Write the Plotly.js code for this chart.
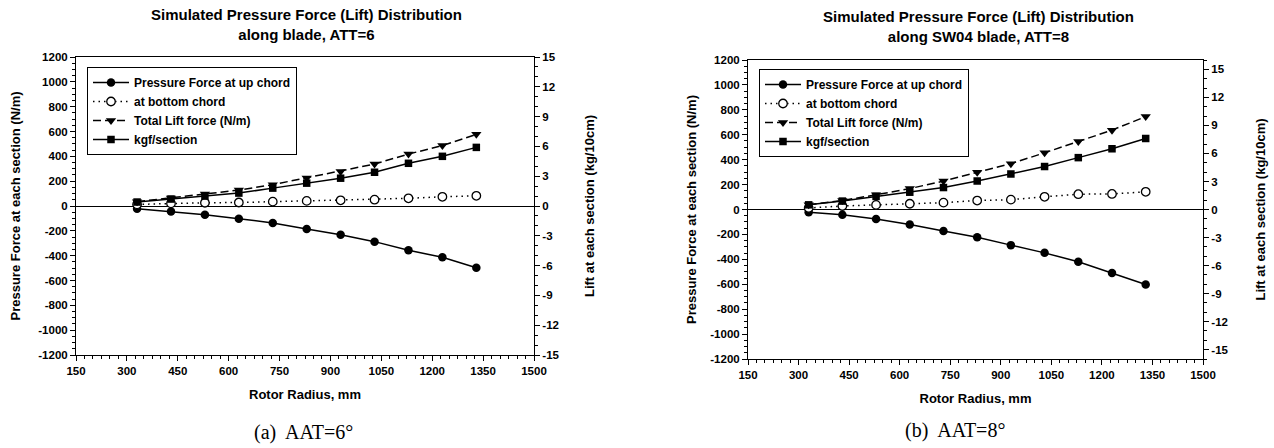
<!DOCTYPE html>
<html><head><meta charset="utf-8">
<script src="https://cdn.plot.ly/plotly-3.0.1.min.js"></script>
<style>html,body{margin:0;padding:0;background:#fff}</style>
</head><body><div id="chart" style="width:1274px;height:448px"></div>
<script>
// ---- data ----
const radius = [330, 430, 530, 630, 730, 830, 930, 1030, 1130, 1230, 1330];

// (a) ATT = 6
const upChord6   = [-22, -44, -70, -102, -137, -185, -232, -287, -357, -413, -497];
const bottom6    = [13, 21, 26, 28, 35, 41, 46, 51, 62, 74, 82];
const totalLift6 = [35, 65, 97, 128, 172, 226, 278, 338, 418, 487, 577];
const kgf6       = [0.4, 0.7, 1.0, 1.3, 1.8, 2.3, 2.8, 3.4, 4.3, 5.0, 5.9];

// (b) ATT = 8
const upChord8   = [-22, -43, -77, -120, -172, -222, -286, -348, -420, -509, -602];
const bottom8    = [12, 28, 37, 46, 55, 72, 79, 102, 123, 125, 142];
const totalLift8 = [38, 72, 118, 168, 228, 298, 368, 455, 545, 637, 746];
const kgf8       = [0.5, 0.9, 1.4, 1.85, 2.35, 3.05, 3.8, 4.6, 5.55, 6.5, 7.6];

const seriesNames = ["Pressure Force at up chord", "at bottom chord", "Total Lift force (N/m)", "kgf/section"];

const xTickVals = [150, 300, 450, 600, 750, 900, 1050, 1200, 1350, 1500];
const forceTickVals = [1200, 1000, 800, 600, 400, 200, 0, -200, -400, -600, -800, -1000, -1200];
const liftTickVals = [15, 12, 9, 6, 3, 0, -3, -6, -9, -12, -15];

const titleA = "Simulated Pressure Force (Lift) Distribution<br>along blade, ATT=6";
const titleB = "Simulated Pressure Force (Lift) Distribution<br>along SW04 blade, ATT=8";
const captionA = "(a)  AAT=6°";
const captionB = "(b)  AAT=8°";
const xTitle = "Rotor Radius, mm";
const yLeftTitle = "Pressure Force at each section (N/m)";
const yRightTitle = "Lift at each section (kg/10cm)";

// ---- geometry ----
const W = 1274, H = 448;
const px = v => v / W;
const py = v => 1 - v / H;
const SANS = "Liberation Sans, Arial, sans-serif";
const SERIF = "Liberation Serif, Times New Roman, serif";

function makeTraces(up, bot, tot, kgf, xa, yaL, yaR, lg) {
  return [
    {x: radius, y: up, xaxis: xa, yaxis: yaL, legend: lg, name: seriesNames[0], mode: "lines+markers",
     line: {color: "#000", width: 1.5}, marker: {symbol: "circle", size: 8.5, color: "#000"}},
    {x: radius, y: bot, xaxis: xa, yaxis: yaL, legend: lg, name: seriesNames[1], mode: "lines+markers",
     line: {color: "#000", width: 1.5, dash: "1.5px,4px"}, marker: {symbol: "circle", size: 8.5, color: "#fff", line: {color: "#000", width: 1.3}}},
    {x: radius, y: tot, xaxis: xa, yaxis: yaL, legend: lg, name: seriesNames[2], mode: "lines+markers",
     line: {color: "#000", width: 1.5, dash: "8px,4px"}, marker: {symbol: "triangle-down", size: 9, color: "#000"}},
    {x: radius, y: kgf, xaxis: xa, yaxis: yaR, legend: lg, name: seriesNames[3], mode: "lines+markers",
     line: {color: "#000", width: 1.5}, marker: {symbol: "square", size: 7.5, color: "#000"}}
  ];
}

const data = [
  ...makeTraces(upChord6, bottom6, totalLift6, kgf6, "x", "y", "y2", "legend"),
  ...makeTraces(upChord8, bottom8, totalLift8, kgf8, "x2", "y3", "y4", "legend2")
];

const tickFont = {size: 11.5, color: "#000", family: SANS, weight: "bold"};
const axTitleFont = {size: 13, color: "#000", family: SANS, weight: "bold"};
function xAxis(domain, anchor) {
  return {domain: domain, anchor: anchor, range: [150, 1500], tickvals: xTickVals, ticktext: xTickVals.map(String),
    ticks: "outside", ticklen: 5, tickcolor: "#000", showline: true, linecolor: "#000", linewidth: 1,
    mirror: true, showgrid: false, zeroline: false, tickfont: tickFont,
    minor: {ticks: "outside", ticklen: 3, tickcolor: "#000", tick0: 150, dtick: 25},
    title: {text: xTitle, font: axTitleFont, standoff: 14}};
}
function yLeft(domain, anchor, standoff) {
  return {domain: domain, anchor: anchor, range: [-1200, 1200], tickvals: forceTickVals, ticktext: forceTickVals.map(String),
    ticks: "outside", ticklen: 5, tickcolor: "#000", showline: true, linecolor: "#000", linewidth: 1,
    showgrid: false, zeroline: true, zerolinecolor: "#000", zerolinewidth: 1, tickfont: tickFont,
    minor: {ticks: "outside", ticklen: 3, tickcolor: "#000", tick0: 0, dtick: 50},
    title: {text: yLeftTitle, font: axTitleFont, standoff: standoff}};
}
function yRight(overlay, anchor, range, standoff) {
  return {overlaying: overlay, anchor: anchor, side: "right", range: range, tickvals: liftTickVals, ticktext: liftTickVals.map(String),
    ticks: "outside", ticklen: 5, tickcolor: "#000", showline: true, linecolor: "#000", linewidth: 1,
    showgrid: false, zeroline: false, tickfont: tickFont,
    minor: {ticks: "outside", ticklen: 3, tickcolor: "#000", tick0: 0, dtick: 1},
    title: {text: yRightTitle, font: axTitleFont, standoff: standoff}};
}

const legendStyle = (x, y) => ({x: x, y: y, xanchor: "left", yanchor: "top", xref: "paper", yref: "paper",
  bordercolor: "#000", borderwidth: 1, bgcolor: "#fff", itemwidth: 36,
  font: {size: 12, color: "#000", family: SANS, weight: "bold"}, tracegroupgap: 0});

const titleFont = {size: 15, color: "#000", family: SANS, weight: "bold"};
const captionFont = {size: 20, color: "#000", family: SERIF};

const layout = {
  width: W, height: H, margin: {l: 0, r: 0, t: 0, b: 0},
  paper_bgcolor: "#fff", plot_bgcolor: "#fff",
  font: {family: SANS, color: "#000"},
  showlegend: true,
  xaxis: xAxis([px(76), px(534)], "y"),
  yaxis: yLeft([py(355), py(57)], "x", 14),
  yaxis2: yRight("y", "x", [-15, 15], 26),
  xaxis2: xAxis([px(748), px(1203)], "y3"),
  yaxis3: yLeft([py(359), py(60)], "x2", 10),
  yaxis4: yRight("y3", "x2", [-16, 16], 28),
  legend: legendStyle(px(87), py(67)),
  legend2: legendStyle(px(759), py(69)),
  annotations: [
    {text: titleA, x: px(306), y: py(25), xref: "paper", yref: "paper", xanchor: "center", yanchor: "middle",
     showarrow: false, font: titleFont},
    {text: titleB, x: px(978), y: py(26), xref: "paper", yref: "paper", xanchor: "center", yanchor: "middle",
     showarrow: false, font: titleFont},
    {text: captionA, x: px(303), y: py(432), xref: "paper", yref: "paper", xanchor: "center", yanchor: "middle",
     showarrow: false, font: captionFont},
    {text: captionB, x: px(955), y: py(430), xref: "paper", yref: "paper", xanchor: "center", yanchor: "middle",
     showarrow: false, font: captionFont}
  ]
};

Plotly.newPlot("chart", data, layout, {displayModeBar: false, staticPlot: true});
</script>
</body></html>
